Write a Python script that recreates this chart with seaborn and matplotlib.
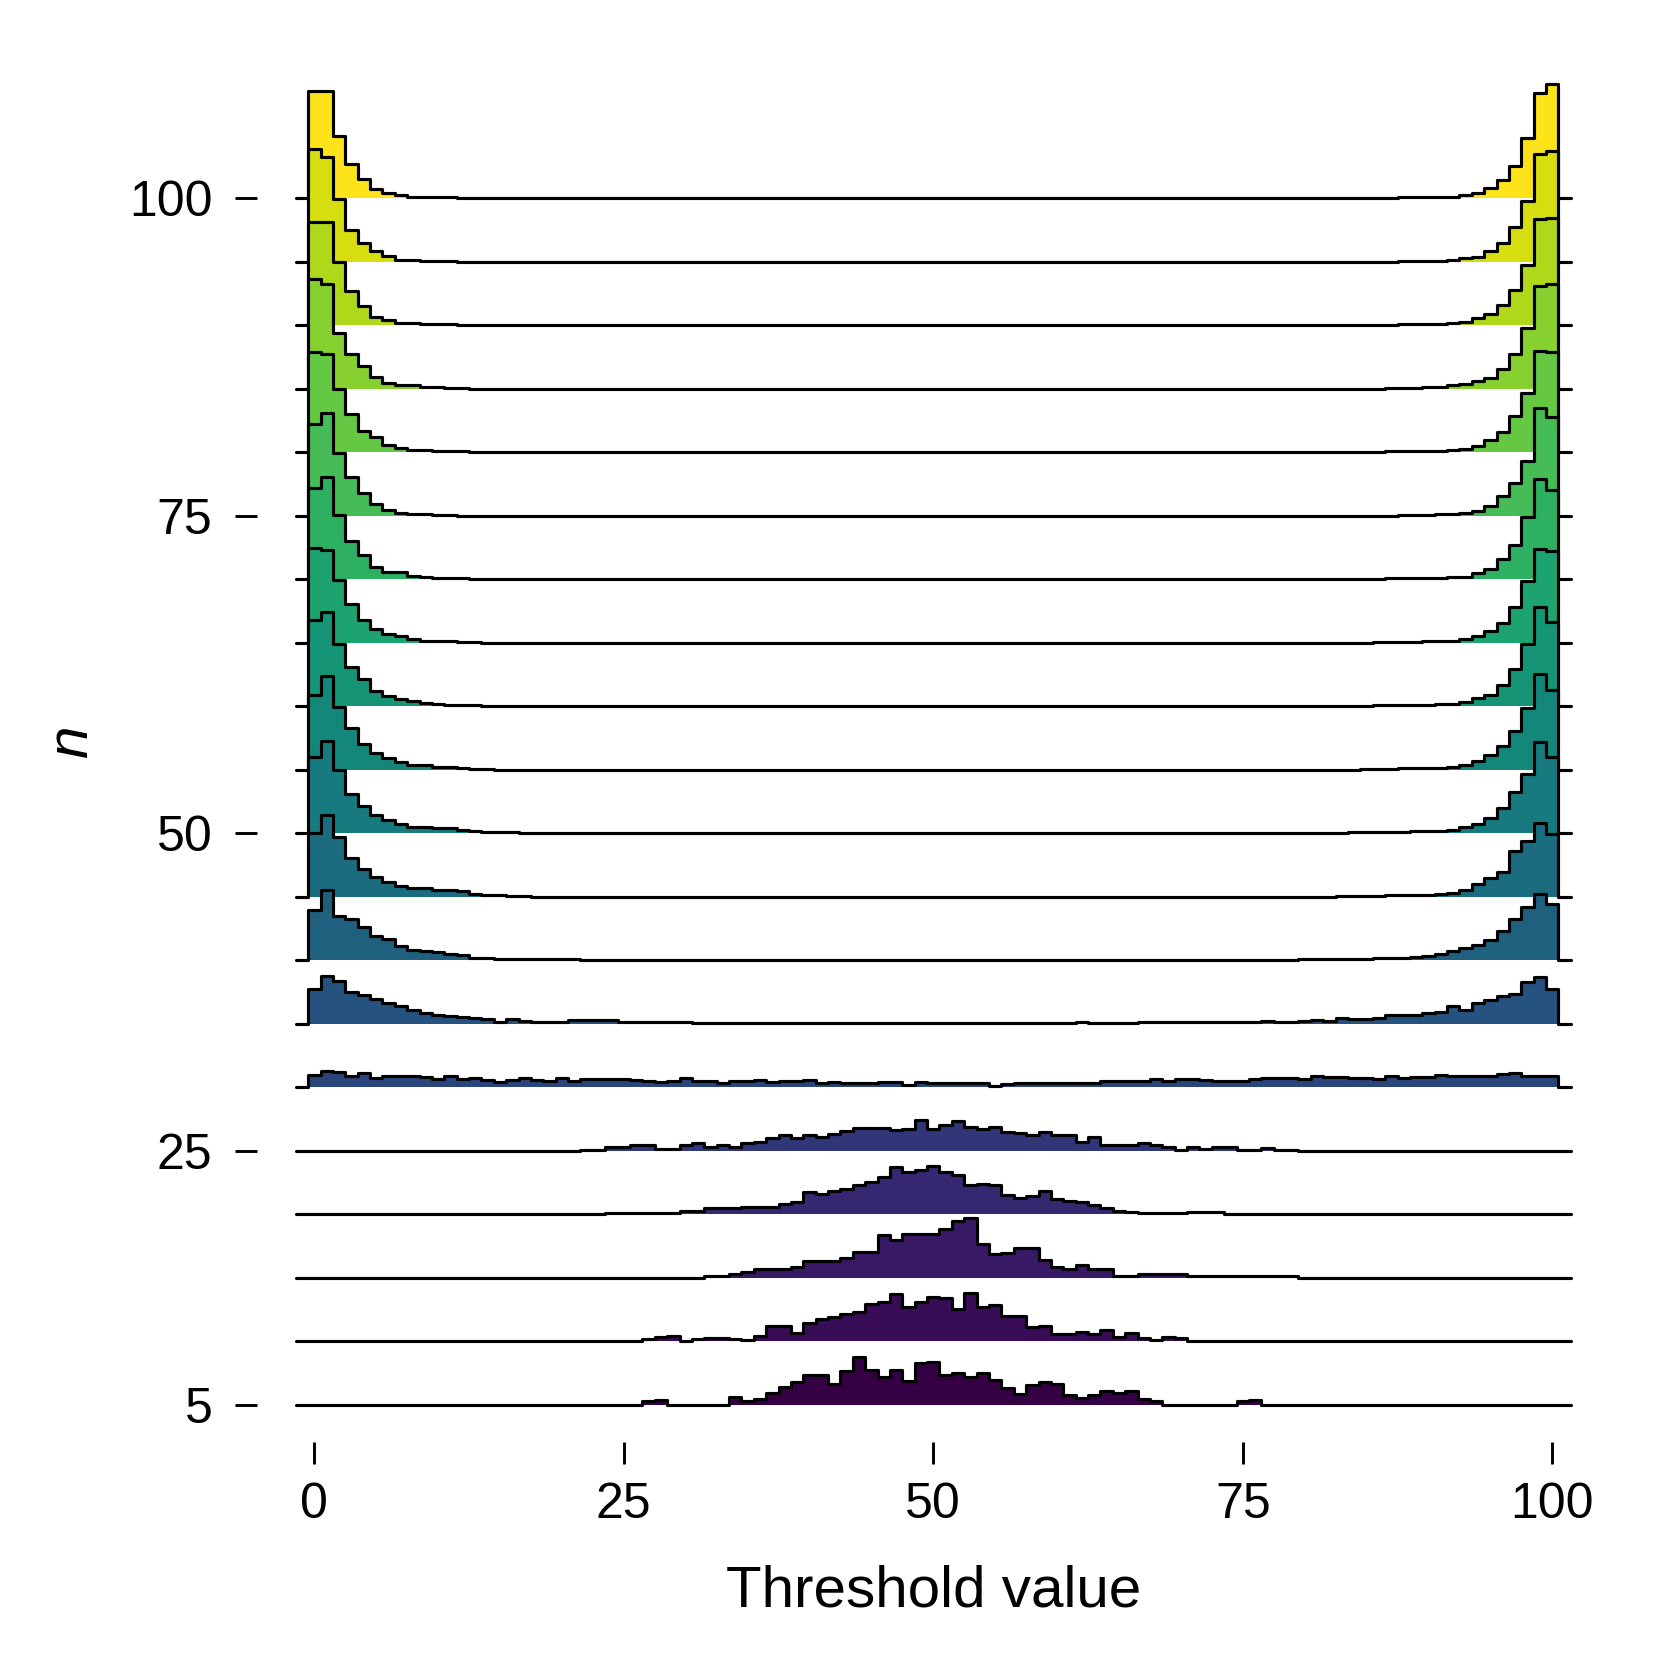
import numpy as np
import pandas as pd
import matplotlib
matplotlib.use("Agg")
import matplotlib.pyplot as plt
import seaborn as sns

# --- Dati ---
# una riga per ogni n, classi di larghezza 1 centrate sulle soglie 0..100
# altezze in % della distanza tra due righe
n_values = [5, 10, 15, 20, 25, 30, 35, 40, 45, 50, 55, 60, 65, 70, 75, 80, 85, 90, 95, 100]
thresholds = list(range(101))
x_ticks = [0, 25, 50, 75, 100]
y_ticks = [5, 25, 50, 75, 100]

h5 = [0, 0, 0, 0, 0, 0, 0, 0, 0, 0,
      0, 0, 0, 0, 0, 0, 0, 0, 0, 0,
      0, 0, 0, 0, 0, 0, 0, 5, 7, 0,
      0, 0, 0, 0, 12, 5, 8, 18, 28, 35,
      47, 47, 32, 53, 75, 54, 43, 54, 37, 66,
      67, 46, 50, 43, 50, 38, 26, 16, 31, 35,
      33, 15, 11, 15, 21, 18, 22, 8, 5, 0,
      0, 0, 0, 0, 0, 6, 7, 0, 0, 0,
      0, 0, 0, 0, 0, 0, 0, 0, 0, 0,
      0, 0, 0, 0, 0, 0, 0, 0, 0, 0,
      0]
h10 = [0, 0, 0, 0, 0, 0, 0, 0, 0, 0,
       0, 0, 0, 0, 0, 0, 0, 0, 0, 0,
       0, 0, 0, 0, 0, 0, 0, 3, 6, 8,
       0, 3, 5, 5, 3, 1, 8, 24, 24, 13,
       29, 34, 38, 43, 45, 58, 61, 74, 53, 61,
       69, 68, 50, 75, 54, 56, 39, 39, 22, 24,
       11, 11, 15, 11, 18, 6, 13, 5, 1, 6,
       4, 0, 0, 0, 0, 0, 0, 0, 0, 0,
       0, 0, 0, 0, 0, 0, 0, 0, 0, 0,
       0, 0, 0, 0, 0, 0, 0, 0, 0, 0,
       0]
h15 = [0, 0, 0, 0, 0, 0, 0, 0, 0, 0,
       0, 0, 0, 0, 0, 0, 0, 0, 0, 0,
       0, 0, 0, 0, 0, 0, 0, 0, 0, 0,
       0, 0, 2, 2, 6, 9, 13, 13, 13, 17,
       26, 26, 26, 30, 41, 41, 67, 59, 69, 69,
       69, 77, 89, 93, 53, 37, 39, 47, 47, 28,
       17, 13, 19, 14, 14, 2, 2, 5, 5, 5,
       5, 3, 3, 3, 3, 3, 2, 2, 2, 2,
       0, 0, 0, 0, 0, 0, 0, 0, 0, 0,
       0, 0, 0, 0, 0, 0, 0, 0, 0, 0,
       0]
h20 = [0, 0, 0, 0, 0, 0, 0, 0, 0, 0,
       0, 0, 0, 0, 0, 0, 0, 0, 0, 0,
       0, 0, 0, 0, 1, 1, 1, 1, 1, 1,
       5, 5, 9, 9, 9, 11, 11, 11, 16, 19,
       34, 32, 37, 39, 45, 51, 59, 74, 67, 69,
       75, 66, 62, 46, 48, 46, 30, 26, 29, 37,
       24, 21, 19, 14, 9, 5, 3, 1, 1, 1,
       1, 3, 3, 3, 0, 0, 0, 0, 0, 0,
       0, 0, 0, 0, 0, 0, 0, 0, 0, 0,
       0, 0, 0, 0, 0, 0, 0, 0, 0, 0,
       0]
h25 = [0, 0, 0, 0, 0, 0, 0, 0, 0, 0,
       0, 0, 0, 0, 0, 0, 0, 0, 0, 0,
       0, 0, 1, 1, 5, 5, 8, 8, 3, 3,
       9, 12, 5, 9, 5, 12, 14, 19, 24, 20,
       25, 22, 26, 31, 35, 35, 35, 32, 34, 48,
       34, 41, 47, 37, 34, 37, 29, 27, 25, 29,
       24, 24, 13, 22, 8, 8, 9, 12, 9, 6,
       1, 6, 3, 5, 5, 1, 1, 4, 1, 1,
       0, 0, 0, 0, 0, 0, 0, 0, 0, 0,
       0, 0, 0, 0, 0, 0, 0, 0, 0, 0,
       0]
h30 = [19, 26, 23, 18, 22, 14, 17, 18, 17, 16,
       13, 17, 13, 15, 11, 8, 11, 15, 11, 9,
       15, 9, 13, 12, 12, 12, 11, 10, 8, 9,
       15, 10, 9, 7, 9, 10, 11, 8, 9, 9,
       11, 7, 8, 6, 7, 7, 8, 8, 4, 8,
       6, 7, 7, 7, 7, 2, 5, 6, 6, 6,
       6, 6, 6, 6, 9, 9, 10, 10, 12, 10,
       13, 12, 11, 10, 10, 10, 12, 15, 15, 14,
       13, 17, 16, 16, 15, 14, 12, 17, 14, 16,
       16, 19, 18, 17, 17, 17, 20, 22, 18, 17,
       17]
h35 = [55, 75, 67, 50, 45, 38, 32, 28, 22, 16,
       13, 12, 11, 9, 7, 3, 7, 4, 3, 3,
       3, 5, 5, 5, 5, 2, 2, 2, 2, 2,
       2, 1, 1, 1, 1, 1, 1, 1, 1, 1,
       1, 1, 1, 1, 1, 1, 1, 1, 1, 1,
       1, 1, 1, 1, 1, 1, 1, 1, 1, 1,
       1, 1, 3, 1, 1, 1, 1, 2, 3, 2,
       2, 2, 2, 2, 2, 2, 2, 4, 3, 2,
       4, 5, 4, 8, 7, 7, 8, 13, 14, 14,
       16, 18, 27, 21, 33, 37, 43, 47, 66, 74,
       55]
h40 = [79, 111, 70, 65, 52, 38, 33, 22, 16, 15,
       12, 9, 8, 4, 3, 2, 2, 1, 1, 1,
       1, 1, 0, 0, 0, 0, 0, 0, 0, 0,
       0, 0, 0, 0, 0, 0, 0, 0, 0, 0,
       0, 0, 0, 0, 0, 0, 0, 0, 0, 0,
       0, 0, 0, 0, 0, 0, 0, 0, 0, 0,
       0, 0, 0, 0, 0, 0, 0, 0, 0, 0,
       0, 0, 0, 0, 0, 0, 0, 0, 0, 0,
       1, 1, 1, 1, 2, 2, 3, 3, 4, 5,
       6, 9, 14, 19, 23, 32, 46, 65, 83, 104,
       88]
h45 = [100, 129, 94, 61, 44, 31, 23, 17, 14, 14,
       10, 10, 8, 4, 2, 2, 1, 1, 0, 0,
       0, 0, 0, 0, 0, 0, 0, 0, 0, 0,
       0, 0, 0, 0, 0, 0, 0, 0, 0, 0,
       0, 0, 0, 0, 0, 0, 0, 0, 0, 0,
       0, 0, 0, 0, 0, 0, 0, 0, 0, 0,
       0, 0, 0, 0, 0, 0, 0, 0, 0, 0,
       0, 0, 0, 0, 0, 0, 0, 0, 0, 0,
       0, 0, 0, 1, 1, 1, 1, 2, 2, 3,
       3, 4, 6, 11, 20, 30, 39, 71, 87, 116,
       99]
h50 = [120, 145, 99, 61, 42, 28, 20, 15, 10, 10,
       8, 8, 5, 3, 2, 1, 1, 0, 0, 0,
       0, 0, 0, 0, 0, 0, 0, 0, 0, 0,
       0, 0, 0, 0, 0, 0, 0, 0, 0, 0,
       0, 0, 0, 0, 0, 0, 0, 0, 0, 0,
       0, 0, 0, 0, 0, 0, 0, 0, 0, 0,
       0, 0, 0, 0, 0, 0, 0, 0, 0, 0,
       0, 0, 0, 0, 0, 0, 0, 0, 0, 0,
       0, 0, 0, 0, 1, 1, 1, 2, 2, 3,
       3, 4, 5, 9, 14, 23, 40, 65, 93, 144,
       120]
h55 = [117, 148, 99, 66, 41, 26, 19, 12, 7, 7,
       4, 4, 2, 1, 1, 0, 0, 0, 0, 0,
       0, 0, 0, 0, 0, 0, 0, 0, 0, 0,
       0, 0, 0, 0, 0, 0, 0, 0, 0, 0,
       0, 0, 0, 0, 0, 0, 0, 0, 0, 0,
       0, 0, 0, 0, 0, 0, 0, 0, 0, 0,
       0, 0, 0, 0, 0, 0, 0, 0, 0, 0,
       0, 0, 0, 0, 0, 0, 0, 0, 0, 0,
       0, 0, 0, 0, 0, 1, 1, 1, 2, 2,
       3, 3, 4, 7, 14, 23, 37, 60, 97, 150,
       125]
h60 = [136, 148, 98, 62, 42, 24, 16, 11, 8, 5,
       3, 2, 1, 1, 0, 0, 0, 0, 0, 0,
       0, 0, 0, 0, 0, 0, 0, 0, 0, 0,
       0, 0, 0, 0, 0, 0, 0, 0, 0, 0,
       0, 0, 0, 0, 0, 0, 0, 0, 0, 0,
       0, 0, 0, 0, 0, 0, 0, 0, 0, 0,
       0, 0, 0, 0, 0, 0, 0, 0, 0, 0,
       0, 0, 0, 0, 0, 0, 0, 0, 0, 0,
       0, 0, 0, 0, 0, 0, 1, 1, 1, 2,
       2, 3, 4, 6, 12, 17, 33, 58, 98, 156,
       133]
h65 = [149, 146, 98, 60, 36, 22, 14, 10, 5, 3,
       3, 3, 1, 1, 0, 0, 0, 0, 0, 0,
       0, 0, 0, 0, 0, 0, 0, 0, 0, 0,
       0, 0, 0, 0, 0, 0, 0, 0, 0, 0,
       0, 0, 0, 0, 0, 0, 0, 0, 0, 0,
       0, 0, 0, 0, 0, 0, 0, 0, 0, 0,
       0, 0, 0, 0, 0, 0, 0, 0, 0, 0,
       0, 0, 0, 0, 0, 0, 0, 0, 0, 0,
       0, 0, 0, 0, 0, 0, 1, 1, 1, 1,
       2, 2, 3, 5, 11, 19, 31, 56, 97, 148,
       144]
h70 = [144, 160, 101, 60, 38, 19, 11, 11, 5, 3,
       2, 1, 1, 0, 0, 0, 0, 0, 0, 0,
       0, 0, 0, 0, 0, 0, 0, 0, 0, 0,
       0, 0, 0, 0, 0, 0, 0, 0, 0, 0,
       0, 0, 0, 0, 0, 0, 0, 0, 0, 0,
       0, 0, 0, 0, 0, 0, 0, 0, 0, 0,
       0, 0, 0, 0, 0, 0, 0, 0, 0, 0,
       0, 0, 0, 0, 0, 0, 0, 0, 0, 0,
       0, 0, 0, 0, 0, 0, 0, 1, 1, 1,
       2, 2, 3, 4, 9, 16, 32, 54, 97, 158,
       141]
h75 = [145, 162, 99, 60, 35, 19, 9, 4, 2, 2,
       1, 1, 0, 0, 0, 0, 0, 0, 0, 0,
       0, 0, 0, 0, 0, 0, 0, 0, 0, 0,
       0, 0, 0, 0, 0, 0, 0, 0, 0, 0,
       0, 0, 0, 0, 0, 0, 0, 0, 0, 0,
       0, 0, 0, 0, 0, 0, 0, 0, 0, 0,
       0, 0, 0, 0, 0, 0, 0, 0, 0, 0,
       0, 0, 0, 0, 0, 0, 0, 0, 0, 0,
       0, 0, 0, 0, 0, 0, 0, 0, 1, 1,
       1, 2, 3, 4, 7, 15, 31, 51, 86, 170,
       156]
h80 = [157, 154, 99, 60, 33, 24, 11, 6, 3, 3,
       2, 1, 1, 0, 0, 0, 0, 0, 0, 0,
       0, 0, 0, 0, 0, 0, 0, 0, 0, 0,
       0, 0, 0, 0, 0, 0, 0, 0, 0, 0,
       0, 0, 0, 0, 0, 0, 0, 0, 0, 0,
       0, 0, 0, 0, 0, 0, 0, 0, 0, 0,
       0, 0, 0, 0, 0, 0, 0, 0, 0, 0,
       0, 0, 0, 0, 0, 0, 0, 0, 0, 0,
       0, 0, 0, 0, 0, 0, 0, 1, 1, 1,
       2, 2, 3, 5, 9, 19, 32, 57, 93, 159,
       157]
h85 = [173, 164, 88, 55, 35, 19, 9, 5, 5, 2,
       2, 1, 1, 0, 0, 0, 0, 0, 0, 0,
       0, 0, 0, 0, 0, 0, 0, 0, 0, 0,
       0, 0, 0, 0, 0, 0, 0, 0, 0, 0,
       0, 0, 0, 0, 0, 0, 0, 0, 0, 0,
       0, 0, 0, 0, 0, 0, 0, 0, 0, 0,
       0, 0, 0, 0, 0, 0, 0, 0, 0, 0,
       0, 0, 0, 0, 0, 0, 0, 0, 0, 0,
       0, 0, 0, 0, 0, 0, 0, 1, 1, 1,
       2, 3, 5, 7, 12, 17, 31, 54, 95, 162,
       165]
h90 = [162, 162, 99, 54, 30, 13, 8, 3, 3, 2,
       1, 1, 0, 0, 0, 0, 0, 0, 0, 0,
       0, 0, 0, 0, 0, 0, 0, 0, 0, 0,
       0, 0, 0, 0, 0, 0, 0, 0, 0, 0,
       0, 0, 0, 0, 0, 0, 0, 0, 0, 0,
       0, 0, 0, 0, 0, 0, 0, 0, 0, 0,
       0, 0, 0, 0, 0, 0, 0, 0, 0, 0,
       0, 0, 0, 0, 0, 0, 0, 0, 0, 0,
       0, 0, 0, 0, 0, 0, 0, 0, 1, 1,
       1, 2, 3, 5, 11, 17, 32, 56, 95, 167,
       169]
h95 = [178, 165, 98, 49, 30, 16, 9, 3, 2, 1,
       1, 1, 0, 0, 0, 0, 0, 0, 0, 0,
       0, 0, 0, 0, 0, 0, 0, 0, 0, 0,
       0, 0, 0, 0, 0, 0, 0, 0, 0, 0,
       0, 0, 0, 0, 0, 0, 0, 0, 0, 0,
       0, 0, 0, 0, 0, 0, 0, 0, 0, 0,
       0, 0, 0, 0, 0, 0, 0, 0, 0, 0,
       0, 0, 0, 0, 0, 0, 0, 0, 0, 0,
       0, 0, 0, 0, 0, 0, 0, 0, 1, 1,
       1, 1, 2, 5, 7, 17, 29, 54, 95, 170,
       174]
h100 = [168, 168, 98, 54, 30, 14, 8, 5, 2, 2,
        1, 1, 0, 0, 0, 0, 0, 0, 0, 0,
        0, 0, 0, 0, 0, 0, 0, 0, 0, 0,
        0, 0, 0, 0, 0, 0, 0, 0, 0, 0,
        0, 0, 0, 0, 0, 0, 0, 0, 0, 0,
        0, 0, 0, 0, 0, 0, 0, 0, 0, 0,
        0, 0, 0, 0, 0, 0, 0, 0, 0, 0,
        0, 0, 0, 0, 0, 0, 0, 0, 0, 0,
        0, 0, 0, 0, 0, 0, 0, 0, 1, 1,
        1, 1, 2, 5, 8, 16, 28, 51, 95, 165,
        179]

heights = {5: h5, 10: h10, 15: h15, 20: h20, 25: h25, 30: h30, 35: h35,
           40: h40, 45: h45, 50: h50, 55: h55, 60: h60, 65: h65, 70: h70,
           75: h75, 80: h80, 85: h85, 90: h90, 95: h95, 100: h100}

# --- Tabella lunga per seaborn ---
records = []
for n in n_values:
    for t, w in zip(thresholds, heights[n]):
        records.append((n, t, w))
df = pd.DataFrame(records, columns=["n", "threshold", "weight"])

# --- Impaginazione (pixel su 1653) ---
DPI = 300
SIZE = 1653 / DPI
XLIM = (-4.63, 104.63)
YLIM = (2.05, 113.0)
ROW_SPAN = 10          # ogni riga ha spazio per 2 distanze (200 %)
P_LEFT = 257 / 1653
P_WIDTH = (1609.6 - 257) / 1653
P_BOTTOM = (1653 - 1442) / 1653
P_HEIGHT = (1442 - 33) / 1653


def y_frac(v):
    return P_BOTTOM + (v - YLIM[0]) / (YLIM[1] - YLIM[0]) * P_HEIGHT


sns.set_theme(style="white")
plt.rcParams["font.family"] = ["Liberation Sans", "DejaVu Sans"]

# viridis, un po' piu' scura come nell'originale
cmap = sns.color_palette("viridis", as_cmap=True)
palette = {n: tuple(c ** 1.2 for c in cmap(v)[:3])
           for n, v in zip(n_values, np.linspace(0, 1, len(n_values)))}

order = n_values[::-1]
# classi di larghezza 1, con una classe vuota in piu' su ogni lato
hist_kws = dict(x="threshold", weights="weight", bins=103, binrange=(-1.5, 101.5),
                element="step")

g = sns.FacetGrid(df, row="n", hue="n", row_order=order, hue_order=n_values,
                  palette=palette, height=0.4, aspect=12, sharex=True, sharey=True)
g.map_dataframe(sns.histplot, fill=True, alpha=1, linewidth=0, **hist_kws)
g.map_dataframe(sns.histplot, fill=False, color="black", linewidth=0.75, **hist_kws)

fig = g.figure
fig.set_size_inches(SIZE, SIZE)

for ax, n in zip(g.axes.flat, order):
    ax.set_xlim(XLIM)
    ax.set_ylim(0, 200)
    ax.set_title("")
    ax.set_axis_off()
    ax.set_position([P_LEFT, y_frac(n), P_WIDTH, y_frac(n + ROW_SPAN) - y_frac(n)])
    # la linea di base sta sul bordo dell'asse: niente ritaglio
    for art in ax.lines + ax.collections:
        art.set_clip_on(False)

# assi comuni con tacche ed etichette
frame = fig.add_axes([P_LEFT, P_BOTTOM, P_WIDTH, P_HEIGHT], zorder=-1)
frame.set_facecolor("none")
frame.set_xlim(XLIM)
frame.set_ylim(YLIM)
frame.set_xticks(x_ticks)
frame.set_yticks(y_ticks)
for s in frame.spines.values():
    s.set_visible(False)
frame.tick_params(direction="out", length=5.2, width=0.7, color="black",
                  labelsize=12, labelcolor="black", left=True, bottom=True)
frame.tick_params(axis="y", pad=5.5)
frame.tick_params(axis="x", pad=4.5)
frame.grid(False)
frame.set_xlabel("Threshold value", fontsize=14, color="black")
frame.set_ylabel("n", fontsize=14, style="italic", color="black")
frame.xaxis.set_label_coords(0.5, -0.087)
frame.yaxis.set_label_coords(-0.117, 0.497)

fig.savefig("out.png", dpi=DPI)
